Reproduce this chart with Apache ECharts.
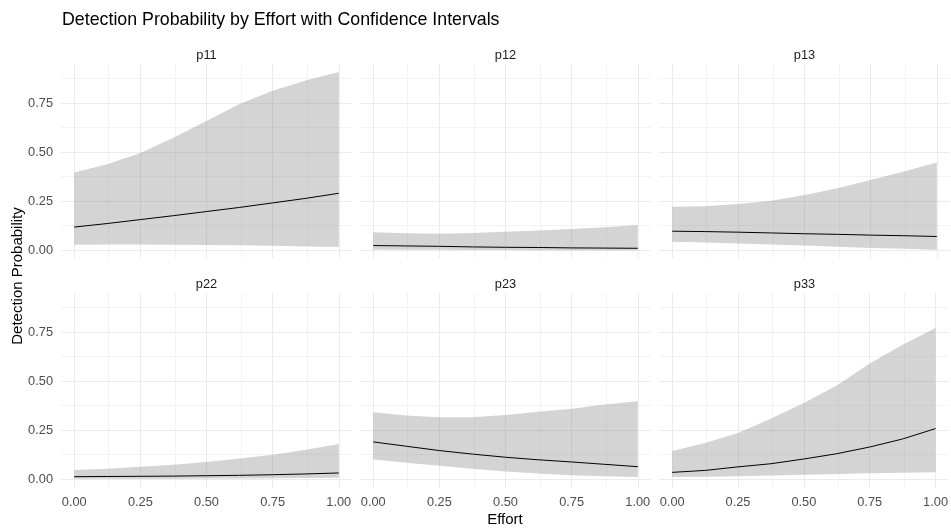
<!DOCTYPE html>
<html>
<head>
<meta charset="utf-8">
<script src="https://cdn.jsdelivr.net/npm/echarts@6/dist/echarts.min.js"></script>
<style>html,body{margin:0;padding:0;background:#fff}#c{width:951px;height:529px}</style>
</head>
<body>
<div id="c"></div>
<script>
const effort = [0, 0.125, 0.25, 0.375, 0.5, 0.625, 0.75, 0.875, 1];
const panelNames = ['p11', 'p12', 'p13', 'p22', 'p23', 'p33'];
const xTicks = [0, 0.25, 0.5, 0.75, 1];
const yTicks = [0, 0.25, 0.5, 0.75];
const xMinor = [0.125, 0.375, 0.625, 0.875];
const yMinor = [0.125, 0.375, 0.625, 0.875];

const p11Mean  = [0.120, 0.138, 0.158, 0.178, 0.199, 0.220, 0.243, 0.266, 0.292];
const p11Upper = [0.398, 0.440, 0.497, 0.575, 0.660, 0.746, 0.814, 0.866, 0.909];
const p11Lower = [0.030, 0.031, 0.031, 0.030, 0.029, 0.027, 0.025, 0.021, 0.018];

const p12Mean  = [0.026, 0.024, 0.022, 0.019, 0.017, 0.016, 0.014, 0.013, 0.012];
const p12Upper = [0.093, 0.089, 0.086, 0.090, 0.096, 0.102, 0.110, 0.119, 0.130];
const p12Lower = [0.006, 0.005, 0.004, 0.003, 0.003, 0.002, 0.002, 0.002, 0.002];

const p13Mean  = [0.099, 0.097, 0.094, 0.090, 0.086, 0.083, 0.079, 0.076, 0.072];
const p13Upper = [0.223, 0.226, 0.237, 0.254, 0.283, 0.317, 0.360, 0.403, 0.449];
const p13Lower = [0.045, 0.041, 0.036, 0.031, 0.026, 0.020, 0.014, 0.009, 0.005];

const p22Mean  = [0.015, 0.016, 0.017, 0.018, 0.020, 0.022, 0.025, 0.029, 0.034];
const p22Upper = [0.049, 0.056, 0.065, 0.076, 0.090, 0.107, 0.127, 0.152, 0.182];
const p22Lower = [0.005, 0.005, 0.005, 0.005, 0.006, 0.006, 0.007, 0.008, 0.009];

const p23Mean  = [0.192, 0.170, 0.148, 0.130, 0.114, 0.101, 0.090, 0.078, 0.066];
const p23Upper = [0.343, 0.326, 0.317, 0.317, 0.329, 0.345, 0.361, 0.382, 0.399];
const p23Lower = [0.102, 0.086, 0.071, 0.056, 0.042, 0.031, 0.022, 0.017, 0.014];

const p33Mean  = [0.037, 0.047, 0.065, 0.081, 0.105, 0.132, 0.166, 0.207, 0.260];
const p33Upper = [0.146, 0.187, 0.238, 0.311, 0.390, 0.479, 0.591, 0.687, 0.772];
const p33Lower = [0.014, 0.015, 0.017, 0.021, 0.025, 0.029, 0.032, 0.035, 0.037];

const means  = [p11Mean, p12Mean, p13Mean, p22Mean, p23Mean, p33Mean];
const uppers = [p11Upper, p12Upper, p13Upper, p22Upper, p23Upper, p33Upper];
const lowers = [p11Lower, p12Lower, p13Lower, p22Lower, p23Lower, p33Lower];

const FONT = '"Liberation Sans", Arial, sans-serif';
const TICK_FS = 12.8;
const colLeft = [61, 360, 659];
const colWidth = 291;
const rowTop = [64, 293];
const rowHeight = 194.5;

const grids = [], xAxes = [], yAxes = [], series = [], graphics = [];

for (let i = 0; i < 6; i++) {
  const r = Math.floor(i / 3), c = i % 3;
  grids.push({ left: colLeft[c], top: rowTop[r], width: colWidth, height: rowHeight, containLabel: false });
  xAxes.push({
    gridIndex: i, type: 'value', min: -0.05, max: 1.05,
    axisLine: { show: false }, axisTick: { show: false }, splitLine: { show: false },
    axisLabel: {
      show: r === 1, customValues: xTicks, margin: 8,
      formatter: v => v.toFixed(2), color: '#4d4d4d', fontSize: TICK_FS, fontFamily: FONT
    }
  });
  yAxes.push({
    gridIndex: i, type: 'value', min: -0.04, max: 0.95,
    axisLine: { show: false }, axisTick: { show: false }, splitLine: { show: false },
    axisLabel: {
      show: c === 0, customValues: yTicks, margin: 8,
      formatter: v => v.toFixed(2), color: '#4d4d4d', fontSize: TICK_FS, fontFamily: FONT
    }
  });
  const pts = (arr) => effort.map((x, k) => [x, arr[k]]);
  const ml = (vals, axis, color) => ({
    type: 'line', xAxisIndex: i, yAxisIndex: i, data: [], z: 1, silent: true,
    markLine: {
      z: 1, zlevel: 0,
      silent: true, symbol: 'none', animation: false, label: { show: false },
      lineStyle: { color: color, width: 1, type: 'solid' },
      data: vals.map(v => ({ [axis]: v }))
    }
  });
  series.push(ml(xMinor, 'xAxis', '#f3f3f3'));
  series.push(ml(yMinor, 'yAxis', '#f3f3f3'));
  series.push(ml(xTicks, 'xAxis', '#ebebeb'));
  series.push(ml(yTicks, 'yAxis', '#ebebeb'));
  const up = uppers[i], lo = lowers[i];
  series.push({
    type: 'custom', xAxisIndex: i, yAxisIndex: i, z: 6, silent: true,
    data: [[0, 0]],
    renderItem: function (params, api) {
      const poly = [];
      for (let k = 0; k < effort.length; k++) poly.push(api.coord([effort[k], up[k]]));
      for (let k = effort.length - 1; k >= 0; k--) poly.push(api.coord([effort[k], lo[k]]));
      return { type: 'polygon', shape: { points: poly },
        style: { fill: 'rgba(128,128,128,0.34)', stroke: null } };
    }
  });
  series.push({
    type: 'line', xAxisIndex: i, yAxisIndex: i, z: 7,
    data: pts(means[i]), showSymbol: false, symbol: 'none', smooth: false,
    lineStyle: { color: '#000', width: 1 }, silent: true
  });
  graphics.push({
    type: 'text', x: colLeft[c] + colWidth / 2, y: rowTop[r] - 9,
    style: { text: panelNames[i], textAlign: 'center', textVerticalAlign: 'middle',
      fill: '#1a1a1a', font: TICK_FS + 'px ' + FONT }
  });
}

graphics.push({
  type: 'text', x: 62, y: 20,
  style: { text: 'Detection Probability by Effort with Confidence Intervals',
    textAlign: 'left', textVerticalAlign: 'middle', fill: '#000', font: '17.8px ' + FONT }
});
graphics.push({
  type: 'text', x: 505, y: 520,
  style: { text: 'Effort', textAlign: 'center', textVerticalAlign: 'middle',
    fill: '#000', font: '15px ' + FONT }
});
graphics.push({
  type: 'text', x: 18, y: 276, rotation: Math.PI / 2,
  style: { text: 'Detection Probability', textAlign: 'center', textVerticalAlign: 'middle',
    fill: '#000', font: '15px ' + FONT }
});

const chart = echarts.init(document.getElementById('c'), null, { renderer: 'canvas' });
chart.setOption({
  animation: false,
  backgroundColor: '#fff',
  grid: grids, xAxis: xAxes, yAxis: yAxes, series: series, graphic: graphics
});
</script>
</body>
</html>
